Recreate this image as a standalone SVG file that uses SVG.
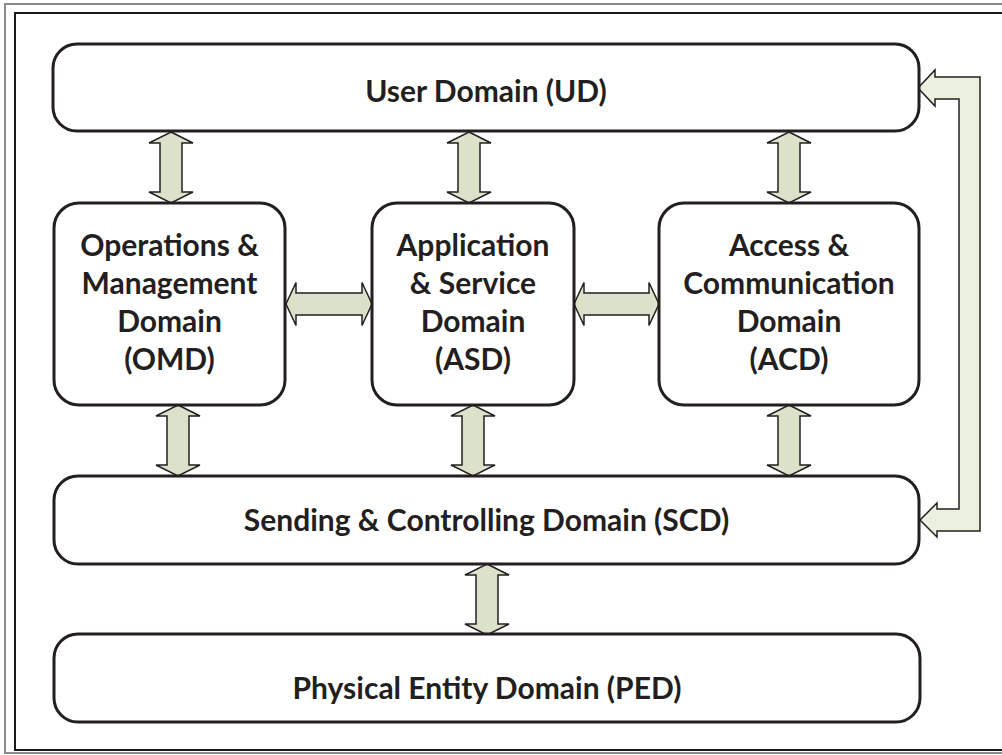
<svg xmlns="http://www.w3.org/2000/svg" width="1002" height="755" viewBox="0 0 1002 755">
<style>
.frame-o{fill:none;stroke:#8c8c8c;stroke-width:2}
.frame-i{fill:none;stroke:#1a1a1a;stroke-width:2}
.box{fill:#ffffff;stroke:#231f20;stroke-width:3}
.lbl{font-family:Lato,"Liberation Sans",sans-serif;font-weight:700;font-size:30px;fill:#231f20;text-anchor:middle}
.arr{fill:#dce2c9;stroke:#231f20;stroke-width:1.5;stroke-linejoin:miter}
.fb{fill:#ebf1de;stroke:#231f20;stroke-width:1.5}
</style>
<defs>
<path id="varr" d="M0,0 L22,11 L11,11 L11,60 L22,60 L0,71 L-22,60 L-11,60 L-11,11 L-22,11 Z"/>
</defs>
<rect width="1002" height="755" fill="#ffffff"/>
<rect class="frame-o" x="5" y="4" width="1010" height="749"/>
<rect class="frame-i" x="15" y="13" width="1000" height="737"/>

<g id="connectors">
<use href="#varr" class="arr" x="171" y="132"/>
<use href="#varr" class="arr" x="469" y="132"/>
<use href="#varr" class="arr" x="789" y="132"/>
<use href="#varr" class="arr" x="178" y="405"/>
<use href="#varr" class="arr" x="473" y="405"/>
<use href="#varr" class="arr" x="789" y="405"/>
<use href="#varr" class="arr" x="487" y="564"/>
<path class="arr" d="M286,304 L296,282.5 L296,293 L362,293 L362,282.5 L372,304 L362,325.5 L362,315 L296,315 L296,325.5 Z"/>
<path class="arr" d="M574,304 L584,282.5 L584,293 L649,293 L649,282.5 L659,304 L649,325.5 L649,315 L584,315 L584,325.5 Z"/>
<path class="fb" d="M918,88 L935,70 L935,77 L980,77 L980,531 L937,531 L937,537 L920,520 L937,503 L937,509 L959,509 L959,99 L935,99 L935,106 Z"/>
</g>

<g id="ud">
<rect class="box" x="53" y="44" width="866" height="87" rx="24"/>
<text class="lbl" x="486" y="102">User Domain (UD)</text>
</g>
<g id="omd">
<rect class="box" x="54" y="203" width="231" height="202" rx="25"/>
<text class="lbl" x="169.5" y="256">Operations &amp;</text>
<text class="lbl" x="169.5" y="294">Management</text>
<text class="lbl" x="169.5" y="332">Domain</text>
<text class="lbl" x="169.5" y="370">(OMD)</text>
</g>
<g id="asd">
<rect class="box" x="372" y="203" width="202" height="202" rx="25"/>
<text class="lbl" x="473" y="256">Application</text>
<text class="lbl" x="473" y="294">&amp; Service</text>
<text class="lbl" x="473" y="332">Domain</text>
<text class="lbl" x="473" y="370">(ASD)</text>
</g>
<g id="acd">
<rect class="box" x="659" y="203" width="260" height="202" rx="25"/>
<text class="lbl" x="789" y="256">Access &amp;</text>
<text class="lbl" x="789" y="294">Communication</text>
<text class="lbl" x="789" y="332">Domain</text>
<text class="lbl" x="789" y="370">(ACD)</text>
</g>
<g id="scd">
<rect class="box" x="54" y="476" width="865" height="88" rx="24"/>
<text class="lbl" x="486.5" y="531">Sending &amp; Controlling Domain (SCD)</text>
</g>
<g id="ped">
<rect class="box" x="54" y="634" width="866" height="88" rx="24"/>
<text class="lbl" x="487" y="699">Physical Entity Domain (PED)</text>
</g>
</svg>
